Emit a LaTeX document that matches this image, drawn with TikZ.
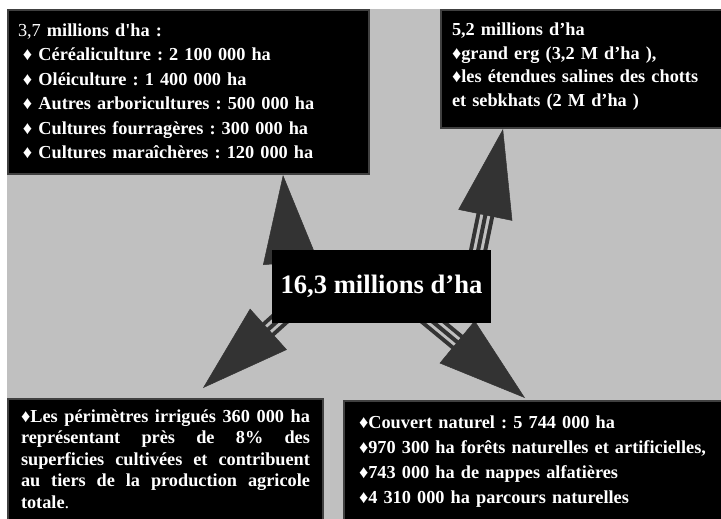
\documentclass[tikz,border=0pt]{standalone}
\usepackage{fontspec}
\setmainfont{Liberation Serif}[Ligatures=TeXOff]
\usetikzlibrary{arrows.meta}
\definecolor{bggray}{HTML}{C0C0C0}
\definecolor{spokegray}{HTML}{333333}
\definecolor{edgegray}{HTML}{404040}
\frenchspacing
\newcommand{\puce}{♦}
\newcommand{\hstrut}{\rule{0pt}{13pt}}
\newcommand{\dstrut}[1]{\rule[-#1]{0pt}{#1}}

\begin{document}
\begin{tikzpicture}[
  x=1pt, y=-1pt,
  panel/.style={draw=edgegray, line width=2pt, fill=black, text=white,
                anchor=north west, align=left,
                font=\bfseries\fontsize{18.3}{24.5}\selectfont},
  total/.style={fill=black, text=white, inner sep=0pt,
                minimum width=219pt, minimum height=73pt,
                font=\bfseries\fontsize{26.6}{30}\selectfont},
  spoke/.style={draw=spokegray, line width=18pt, shorten >=70pt,
                postaction={draw=bggray, line width=10pt, shorten >=70pt},
                postaction={draw=spokegray, line width=4pt, shorten >=70pt},
                postaction={draw=spokegray, line width=0.5pt, shorten >=0pt,
                            -{Triangle[length=88pt, width=55pt]}}},
]
  \clip (0,0) rectangle (721,519);
  \fill[white] (0,0) rectangle (721,519);
  \fill[bggray] (7,9) rectangle (721,519);

  % Cultivated land
  \node[panel, inner xsep=10pt, inner ysep=13.5pt, text width=341pt] (tl) at (7,9)
    {\hstrut{\mdseries 3,7} millions d'ha :\\
     \hspace*{5pt}\puce{} Céréaliculture : 2 100 000 ha\\
     \hspace*{5pt}\puce{} Oléiculture : 1 400 000 ha\\
     \hspace*{5pt}\puce{} Autres arboricultures : 500 000 ha\\
     \hspace*{5pt}\puce{} Cultures fourragères : 300 000 ha\\
     \hspace*{5pt}\puce{} Cultures maraîchères : 120 000 ha\dstrut{1.5pt}};

  % Desert land
  \node[panel, inner xsep=11pt, inner ysep=13pt, text width=290pt,
        font=\bfseries\fontsize{18.3}{23.5}\selectfont] (tr) at (440,9)
    {\hstrut 5,2 millions d’ha\\
     \puce grand erg (3,2 M d’ha ),\\
     \puce les étendues salines des chotts\\
     et sebkhats (2 M d’ha )\dstrut{8.5pt}};

  % Irrigated land
  \node[panel, inner xsep=13pt, inner ysep=10pt, text width=289pt, align=justify,
        font=\bfseries\fontsize{18.3}{21.5}\selectfont] (bl) at (7,398)
    {\hstrut\puce Les périmètres irrigués 360 000 ha\linebreak
     représentant près de 8\% des\linebreak
     superficies cultivées et contribuent\linebreak
     au tiers de la production agricole\linebreak
     totale{\mdseries .}\dstrut{30pt}};

  % Natural cover
  \node[panel, inner xsep=15pt, inner ysep=14pt, text width=380pt,
        font=\bfseries\fontsize{18.3}{25}\selectfont] (br) at (343,400)
    {\hstrut\puce Couvert naturel : 5 744 000 ha\\
     \puce 970 300 ha forêts naturelles et artificielles,\\
     \puce 743 000 ha de nappes alfatières\\
     \puce 4 310 000 ha parcours naturelles\dstrut{30pt}};

  % Spokes
  \coordinate (s1) at (295,316);
  \coordinate (s2) at (471,285);
  \coordinate (s3) at (301,300);
  \coordinate (s4) at (410,303);
  \draw[spoke] (s1) -- ([xshift=276pt]tl.south west);
  \draw[spoke] (s2) -- ([xshift=63pt]tr.south west);
  \draw[spoke] (s3) -- ([xshift=196pt, yshift=10pt]bl.north west);
  \draw[spoke] (s4) -- ([xshift=182pt, yshift=2pt]br.north west);

  % Total
  \node[total] (tot) at (381.5,286.5) {16,3 millions d’ha};
\end{tikzpicture}
\end{document}
